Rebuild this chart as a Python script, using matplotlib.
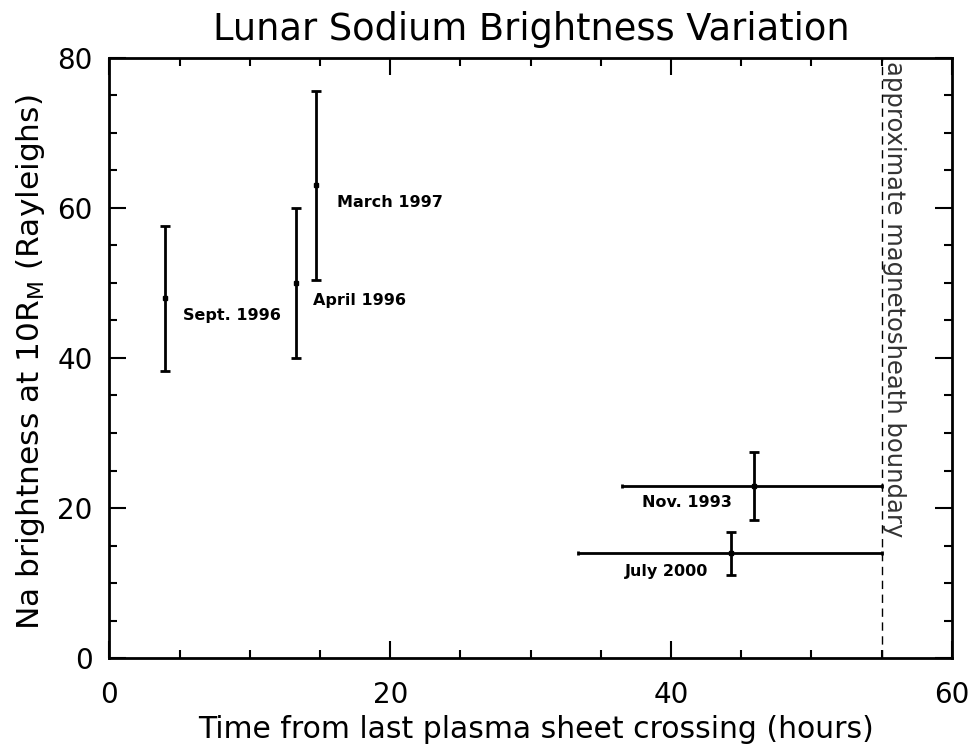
import matplotlib
matplotlib.use("Agg")
import matplotlib.pyplot as plt
from matplotlib.ticker import MultipleLocator

# data (hours, Rayleighs)
labels = ["Sept. 1996", "April 1996", "March 1997", "Nov. 1993", "July 2000"]
hours = [3.95, 13.3, 14.7, 45.9, 44.3]
brightness = [48.0, 50.0, 63.0, 23.0, 14.0]
b_low = [38.3, 40.0, 50.4, 18.4, 11.1]
b_high = [57.6, 60.0, 75.6, 27.5, 16.8]
h_low = [None, None, None, 36.5, 33.35]
h_high = [None, None, None, 55.0, 55.0]
boundary = 55.0

# label offsets in data units (dx hours, dy Rayleighs)
lab_dx = [1.3, 1.2, 1.5, -8.0, -7.6]
lab_dy = [-2.4, -2.3, -2.3, -2.2, -2.5]

fig = plt.figure(figsize=(9.75, 7.46), dpi=100)
ax = fig.add_axes([0.1123, 0.1175, 0.864, 0.8054])

for i in range(len(labels)):
    yerr = [[brightness[i] - b_low[i]], [b_high[i] - brightness[i]]]
    ax.errorbar([hours[i]], [brightness[i]], yerr=yerr, fmt='s', ms=3,
                color='k', ecolor='k', elinewidth=2, capsize=3.5, capthick=2)
    if h_low[i] is not None:
        xerr = [[hours[i] - h_low[i]], [h_high[i] - hours[i]]]
        ax.errorbar([hours[i]], [brightness[i]], xerr=xerr, fmt='none',
                    ecolor='k', elinewidth=2, capsize=1.5, capthick=2)
    ax.text(hours[i] + lab_dx[i], brightness[i] + lab_dy[i], labels[i],
            fontsize=11.5, fontweight='bold', ha='left', va='center')

# magnetosheath boundary
ax.axvline(boundary, color='k', lw=1, ls=(0, (6, 4)))
ax.text(boundary + 0.05, 79.6, "approximate magnetosheath boundary",
        rotation=-90, fontsize=17.5, ha='left', va='top', color='#333333')

ax.set_xlim(0, 60)
ax.set_ylim(0, 80)
ax.xaxis.set_major_locator(MultipleLocator(20))
ax.xaxis.set_minor_locator(MultipleLocator(5))
ax.yaxis.set_major_locator(MultipleLocator(20))
ax.yaxis.set_minor_locator(MultipleLocator(5))
ax.tick_params(which='both', direction='in', top=True, right=True,
               width=1.5, labelsize=20)
ax.tick_params(which='major', length=12)
ax.tick_params(which='minor', length=6)
ax.tick_params(axis='x', pad=16)
ax.tick_params(axis='y', pad=12)
for s in ax.spines.values():
    s.set_linewidth(2)

fig.text(0.545, 0.96, "Lunar Sodium Brightness Variation", fontsize=26.5,
         ha='center', va='center')
fig.text(0.55, 0.011, "Time from last plasma sheet crossing (hours)",
         fontsize=21.5, ha='center', va='baseline')
fig.text(0.031, 0.515, r"Na brightness at 10R$_\mathregular{M}$ (Rayleighs)",
         fontsize=22.5, ha='center', va='center', rotation=90)

fig.savefig("out.png", dpi=100)
